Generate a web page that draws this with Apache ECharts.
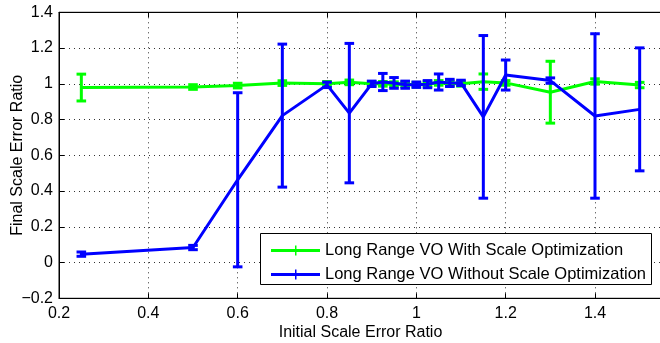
<!DOCTYPE html>
<html>
<head>
<meta charset="utf-8">
<script src="https://cdn.jsdelivr.net/npm/echarts@6/dist/echarts.min.js"></script>
<style>html,body{margin:0;padding:0;background:#fff}#c{width:660px;height:343px}</style>
</head>
<body>
<div id="c"></div>
<script>
const xValues = [0.25, 0.5, 0.6, 0.7, 0.8, 0.85, 0.9, 0.925, 0.95, 0.975, 1.0, 1.025, 1.05, 1.075, 1.1, 1.15, 1.2, 1.3, 1.4, 1.5];
const withScaleY   = [0.979, 0.982, 0.99, 1.004, 1.0, 1.008, 1.0, 1.0, 0.998, 0.997, 0.995, 1.0, 1.005, 1.002, 1.0, 1.012, 1.005, 0.953, 1.013, 0.993];
const withScaleErr = [0.075, 0.013, 0.013, 0.013, 0.013, 0.013, 0.013, 0.013, 0.013, 0.013, 0.013, 0.013, 0.013, 0.013, 0.013, 0.043, 0.013, 0.173, 0.015, 0.015];
const withoutScaleY   = [0.047, 0.084, 0.463, 0.822, 0.994, 0.836, 1.0, 1.01, 1.005, 0.995, 0.995, 0.998, 1.01, 1.005, 1.005, 0.815, 1.049, 1.018, 0.82, 0.857];
const withoutScaleErr = [0.012, 0.012, 0.487, 0.4, 0.015, 0.39, 0.015, 0.048, 0.03, 0.02, 0.015, 0.02, 0.045, 0.02, 0.015, 0.455, 0.084, 0.015, 0.46, 0.344];
const seriesNames = ['Long Range VO With Scale Optimization', 'Long Range VO Without Scale Optimization'];
const xTicks = { min: 0.2, max: 1.55, interval: 0.2 };
const yTicks = { min: -0.2, max: 1.4, interval: 0.2 };

const GREEN = '#00ff00', BLUE = '#0000ff';
const FONT = '"Liberation Sans", Arial, Helvetica, sans-serif';

function errData(ys, errs) {
  return xValues.map((x, i) => [x, ys[i] - errs[i], ys[i] + errs[i]]);
}
function lineData(ys) {
  return xValues.map((x, i) => [x, ys[i]]);
}
function errRender(color) {
  return function (params, api) {
    const x = api.value(0), lo = api.value(1), hi = api.value(2);
    const a = api.coord([x, lo]), b = api.coord([x, hi]);
    const hw = 4.8;
    const st = { stroke: color, lineWidth: 3 };
    return {
      type: 'group',
      children: [
        { type: 'line', shape: { x1: a[0], y1: a[1], x2: b[0], y2: b[1] }, style: st },
        { type: 'line', shape: { x1: a[0] - hw, y1: a[1], x2: a[0] + hw, y2: a[1] }, style: st },
        { type: 'line', shape: { x1: b[0] - hw, y1: b[1], x2: b[0] + hw, y2: b[1] }, style: st }
      ]
    };
  };
}
const legendIcon = 'path://M0,3.5 H49 V6.5 H0 Z M24,0 H25.5 V10 H24 Z';

const chart = echarts.init(document.getElementById('c'), null, { renderer: 'canvas' });
chart.setOption({
  animation: false,
  backgroundColor: '#fff',
  textStyle: { fontFamily: FONT },
  grid: { left: 59, right: -2, top: 12.3, bottom: 44.7, outerBoundsMode: 'none', containLabel: false,
    show: true, borderColor: '#000', borderWidth: 1, backgroundColor: 'transparent' },
  graphic: [{
    type: 'rect', left: 260, top: 233, z: 50,
    shape: { width: 391, height: 51 },
    style: { fill: '#fff', stroke: '#000', lineWidth: 1 }
  }],
  legend: {
    orient: 'vertical',
    left: 260, top: 233, z: 60,
    padding: [9, 4, 5, 11],
    itemWidth: 49, itemHeight: 10, itemGap: 7,
    textStyle: { fontSize: 16.5, color: '#000', fontFamily: FONT, lineHeight: 16 },
    data: [
      { name: seriesNames[0], icon: legendIcon, itemStyle: { color: GREEN } },
      { name: seriesNames[1], icon: legendIcon, itemStyle: { color: BLUE } }
    ],
    selectedMode: false
  },
  xAxis: [{
    type: 'value', min: xTicks.min, max: xTicks.max, interval: xTicks.interval,
    name: 'Initial Scale Error Ratio', nameLocation: 'middle', nameGap: 26, nameMoveOverlap: false,
    nameTextStyle: { fontSize: 16, color: '#000', fontFamily: FONT },
    axisLine: { show: true, onZero: false, lineStyle: { color: '#000', width: 1 } },
    axisTick: { show: true, inside: true, length: 5, lineStyle: { color: '#000' } },
    axisLabel: { fontSize: 16, color: '#000', margin: 7, showMaxLabel: false, fontFamily: FONT },
    splitLine: { show: true, lineStyle: { color: '#333', type: [1, 4], width: 1 } }
  }, {
    type: 'value', position: 'top', min: xTicks.min, max: xTicks.max, interval: xTicks.interval,
    axisLine: { show: true, onZero: false, lineStyle: { color: '#000', width: 1 } },
    axisTick: { show: true, inside: true, length: 5, lineStyle: { color: '#000' } },
    axisLabel: { show: false }, splitLine: { show: false }
  }],
  yAxis: [{
    type: 'value', min: yTicks.min, max: yTicks.max, interval: yTicks.interval,
    name: 'Final Scale Error Ratio', nameLocation: 'middle', nameGap: 33, nameMoveOverlap: false,
    nameTextStyle: { fontSize: 16, color: '#000', fontFamily: FONT },
    axisLine: { show: true, onZero: false, lineStyle: { color: '#000', width: 1 } },
    axisTick: { show: true, inside: true, length: 5, lineStyle: { color: '#000' } },
    axisLabel: { fontSize: 16, color: '#000', margin: 6, fontFamily: FONT,
      formatter: v => String(Math.round(v * 10) / 10).replace('-', '\u2212') },
    splitLine: { show: true, lineStyle: { color: '#333', type: [1, 4], width: 1 } }
  }],
  series: [
    { name: seriesNames[0], type: 'line', data: lineData(withScaleY), symbol: 'none',
      lineStyle: { color: GREEN, width: 3 }, itemStyle: { color: GREEN }, z: 2 },
    { name: seriesNames[0], type: 'custom', data: errData(withScaleY, withScaleErr),
      encode: { x: 0, y: [1, 2] }, renderItem: errRender(GREEN), itemStyle: { color: GREEN }, z: 2 },
    { name: seriesNames[1], type: 'line', data: lineData(withoutScaleY), symbol: 'none',
      lineStyle: { color: BLUE, width: 3 }, itemStyle: { color: BLUE }, z: 3 },
    { name: seriesNames[1], type: 'custom', data: errData(withoutScaleY, withoutScaleErr),
      encode: { x: 0, y: [1, 2] }, renderItem: errRender(BLUE), itemStyle: { color: BLUE }, z: 3 }
  ]
});
</script>
</body>
</html>
